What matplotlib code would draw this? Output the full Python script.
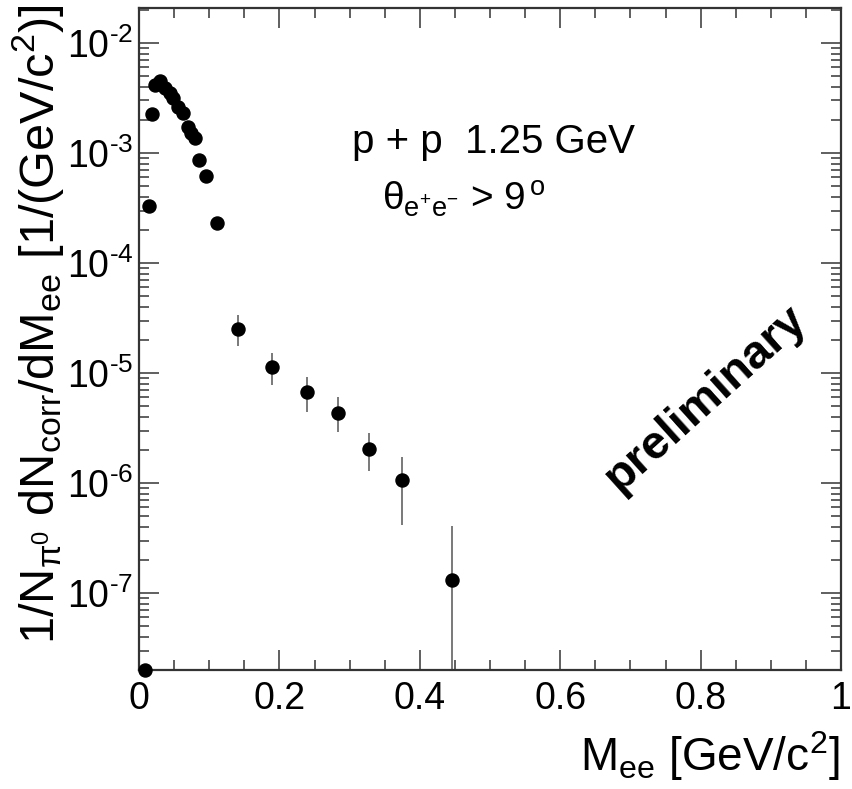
import numpy as np
from matplotlib import pyplot as plt
from matplotlib.ticker import MultipleLocator, LogLocator, FixedLocator, FuncFormatter, NullFormatter
from matplotlib import rcParams

rcParams['font.family'] = 'Liberation Sans'
rcParams['mathtext.fontset'] = 'custom'
rcParams['mathtext.rm'] = 'Liberation Sans'
rcParams['mathtext.it'] = 'Liberation Sans'
rcParams['mathtext.bf'] = 'Liberation Sans:bold'
rcParams['mathtext.sf'] = 'Liberation Sans'
rcParams['mathtext.default'] = 'regular'

# dilepton invariant mass spectrum, p+p 1.25 GeV
mee = [0.0085, 0.0138, 0.019, 0.0223, 0.0295, 0.0366, 0.0437, 0.0484, 0.0556,
       0.0627, 0.0698, 0.0745, 0.0793, 0.0855, 0.0959, 0.1107,
       0.1415, 0.189, 0.239, 0.284, 0.328, 0.375, 0.446]
yield_ = [2.0e-8, 3.3e-4, 2.25e-3, 4.15e-3, 4.5e-3, 3.87e-3, 3.53e-3, 3.14e-3, 2.64e-3,
          2.29e-3, 1.74e-3, 1.51e-3, 1.36e-3, 8.6e-4, 6.2e-4, 2.3e-4,
          2.5e-5, 1.14e-5, 6.67e-6, 4.36e-6, 2.05e-6, 1.06e-6, 1.31e-7]
# error bars only on the high mass points
err_hi = [3.35e-5, 1.51e-5, 9.1e-6, 6.0e-6, 2.83e-6, 1.73e-6, 4.07e-7]
err_lo = [1.77e-5, 7.78e-6, 4.4e-6, 2.89e-6, 1.29e-6, 4.15e-7, 1.0e-9]
ydecades = [-7, -6, -5, -4, -3, -2]

y = np.array(yield_)
yh = y[16:]
yerr = [yh - np.array(err_lo), np.array(err_hi) - yh]

ymin, ymax = 10**-7.7, 10**-1.682

fig = plt.figure(figsize=(8.52, 7.89), dpi=100)
ax = fig.add_axes([139/852, 1-670/789, (841-139)/852, (670-8)/789])

ax.errorbar(mee[16:], yh, yerr=yerr, fmt='none',
            ecolor='#555555', elinewidth=1.1, capsize=0, zorder=2)
ax.plot(mee, y, 'o', color='black', markersize=9.4, zorder=3, clip_on=False)

ax.set_yscale('log')
ax.set_xlim(0, 1)
ax.set_ylim(ymin, ymax)

ax.xaxis.set_major_locator(MultipleLocator(0.2))
ax.xaxis.set_minor_locator(MultipleLocator(0.05))
ax.xaxis.set_major_formatter(FuncFormatter(lambda v, p: '%g' % v))
ax.yaxis.set_major_locator(FixedLocator([10.0**d for d in ydecades]))
ax.yaxis.set_major_formatter(FuncFormatter(
    lambda v, p: r'$10^{\text{-}%d}$' % round(-np.log10(v))))
ax.yaxis.set_minor_locator(LogLocator(base=10, subs=np.arange(2, 10), numticks=20))
ax.yaxis.set_minor_formatter(NullFormatter())

ax.tick_params(which='both', direction='in', top=True, right=True,
               labelsize=27, color='#444444', width=1.2)
ax.tick_params(which='major', length=14.5)
ax.tick_params(which='minor', length=7.2)
ax.tick_params(axis='x', pad=8)
ax.tick_params(axis='y', pad=4)
for s in ax.spines.values():
    s.set_linewidth(1.6)
    s.set_color('#333333')

fig.text(38/852, 1-4/789,
         r'1/N$_{\pi^0}$ dN$_{corr}$/dM$_{ee}$ [1/(GeV/c$^2$)]',
         rotation=90, ha='center', va='top', fontsize=35)
fig.text(840/852, 1-771/789, r'M$_{ee}$ [GeV/c$^2$]', ha='right', va='baseline', fontsize=33)

ax.text(352/852, 1-153/789, 'p + p  1.25 GeV', transform=fig.transFigure,
        ha='left', va='baseline', fontsize=29)
ax.text(382/852, 1-210/789, r'$\theta_{e^{+}e^{-}}$ > 9$^{\,\rm o}$', transform=fig.transFigure,
        ha='left', va='baseline', fontsize=28)
ax.text(706/852, 1-398/789, 'preliminary', transform=fig.transFigure,
        ha='center', va='center', rotation=42, rotation_mode='anchor',
        fontsize=34, fontweight='bold')

fig.savefig('out.png', dpi=100)
